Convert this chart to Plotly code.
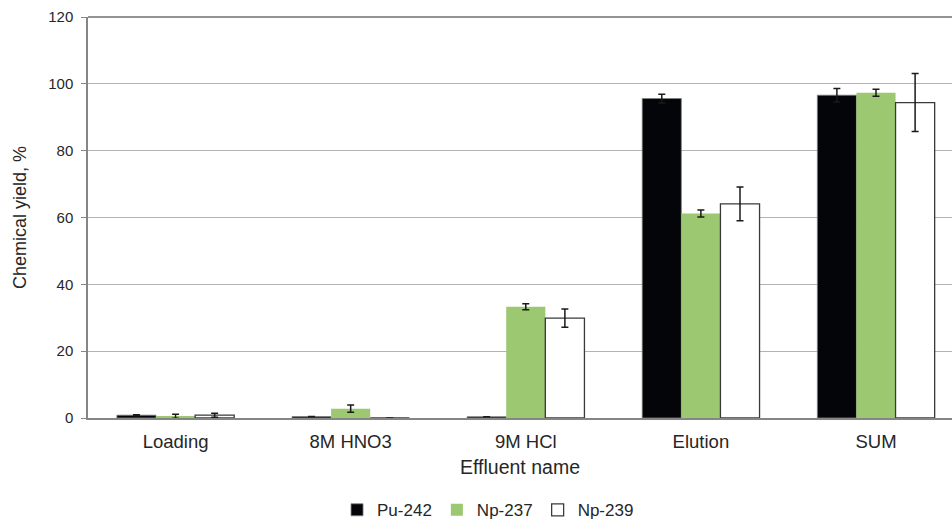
import plotly.graph_objects as go

categories = ["Loading", "8M HNO3", "9M HCl", "Elution", "SUM"]
pu242 = [0.85, 0.45, 0.4, 95.6, 96.6]
pu242_err = [0.15, 0.0, 0.0, 1.3, 2.0]
np237 = [0.55, 2.8, 33.3, 61.2, 97.3]
np237_err = [0.6, 1.1, 0.9, 1.05, 1.05]
np239 = [0.85, 0.0, 29.9, 64.1, 94.4]
np239_err = [0.6, 0.0, 2.75, 5.05, 8.7]
y_ticks = [0, 20, 40, 60, 80, 100, 120]

FONT = "Liberation Sans, Arial, sans-serif"
err_style = dict(type="data", visible=True, color="#1a1a1a", thickness=1.5, width=3.5)

fig = go.Figure()
fig.add_trace(go.Bar(
    name="Pu-242", x=categories, y=pu242,
    error_y=dict(array=pu242_err, **err_style),
    marker=dict(color="#040508", line=dict(color="#7f7f7f", width=0.8)),
))
fig.add_trace(go.Bar(
    name="Np-237", x=categories, y=np237,
    error_y=dict(array=np237_err, **err_style),
    marker=dict(color="#9bc870", line=dict(color="#9bc870", width=0)),
))
fig.add_trace(go.Bar(
    name="Np-239", x=categories, y=np239,
    error_y=dict(array=np239_err, **err_style),
    marker=dict(color="#ffffff", line=dict(color="#3a3a3a", width=1.3)),
))

fig.update_layout(
    width=952, height=520,
    margin=dict(l=88, r=0, t=17, b=102, autoexpand=False),
    paper_bgcolor="white", plot_bgcolor="white",
    barmode="group", bargap=0.33, bargroupgap=0,
    font=dict(family=FONT, size=16, color="#262626"),
    showlegend=True,
    legend=dict(orientation="h", x=0.463, xanchor="center", y=-0.23, yanchor="middle",
                font=dict(size=17, color="#262626"), itemwidth=30, tracegroupgap=0,
                traceorder="normal", borderwidth=0),
    xaxis=dict(
        range=[-0.5, 4.434], automargin=False,
        showline=True, linecolor="#868686", linewidth=2,
        ticks="", showgrid=False, ticklabelstandoff=6,
        tickfont=dict(size=18.5, color="#262626"),
        title=dict(text="Effluent name", font=dict(size=19.5, color="#262626"), standoff=9),
    ),
    yaxis=dict(
        range=[0, 120], tickvals=y_ticks, automargin=False,
        showline=True, linecolor="#868686", linewidth=1.5,
        ticks="outside", ticklen=5, tickcolor="#868686", tickwidth=1.2,
        showgrid=True, gridcolor="#b3b3b3", gridwidth=1.2,
        zeroline=False, ticklabelstandoff=5,
        tickfont=dict(size=15, color="#262626"),
        title=dict(text="Chemical yield, %", font=dict(size=18, color="#262626"), standoff=17),
    ),
    shapes=[dict(type="line", xref="paper", yref="paper", x0=0, x1=1, y0=1, y1=1,
                 line=dict(color="#6f6f6f", width=1.5))],
)

fig.write_html(
    "out.html",
    config={"displayModeBar": False},
    post_script="document.body.style.margin='0';document.body.style.overflow='hidden';",
)
